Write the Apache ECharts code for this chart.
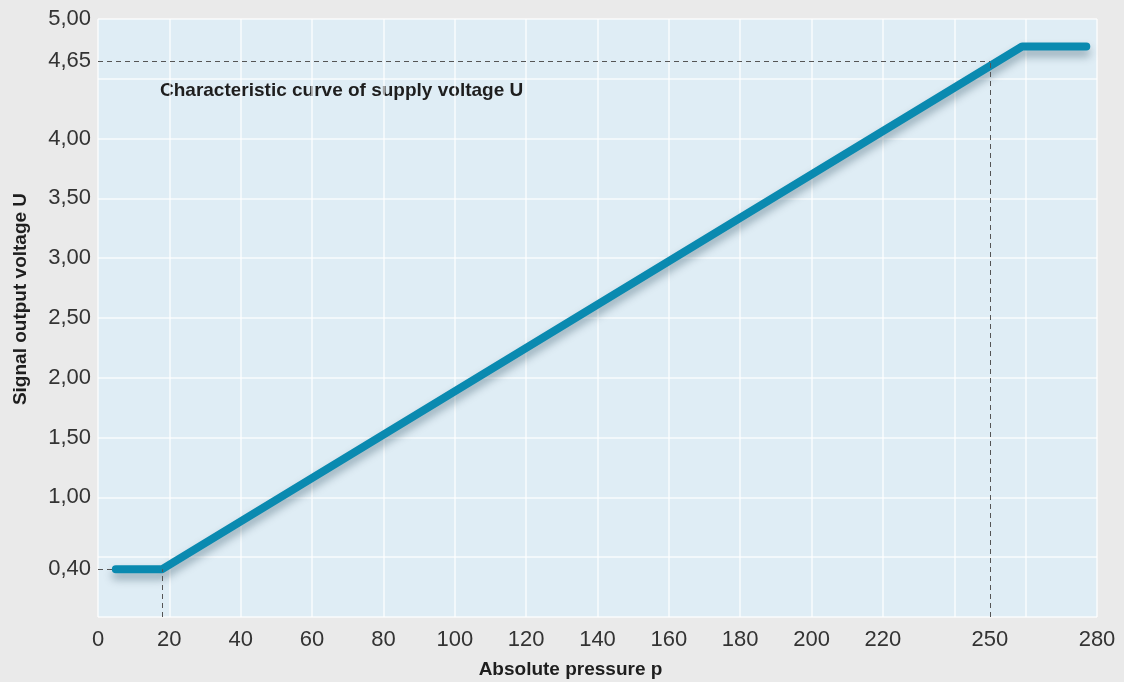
<!DOCTYPE html>
<html>
<head>
<meta charset="utf-8">
<script src="https://cdn.jsdelivr.net/npm/echarts@6/dist/echarts.min.js"></script>
<style>
html,body{margin:0;padding:0;background:#eaeaea;}
#chart{width:1124px;height:682px;}
</style>
</head>
<body>
<div id="chart"></div>
<script>
// Data
const pressure = [5, 18, 259, 277];          // Absolute pressure p
const voltage  = [0.40, 0.40, 4.77, 4.77];   // Signal output voltage U
const xTickValues = [0, 20, 40, 60, 80, 100, 120, 140, 160, 180, 200, 220, 250, 280];
const yTickValues = [0.40, 1.00, 1.50, 2.00, 2.50, 3.00, 3.50, 4.00, 4.65, 5.00];
const refLowX = 18, refLowY = 0.40;
const refHighX = 250, refHighY = 4.65;
const annotation = 'Characteristic curve of supply voltage U';
const xName = 'Absolute pressure p';
const yName = 'Signal output voltage U';

const chart = echarts.init(document.getElementById('chart'), null, {renderer: 'canvas'});
const FONT = '"Liberation Sans", Arial, Helvetica, sans-serif';

const option = {
  backgroundColor: '#eaeaea',
  animation: false,
  grid: {left: 98, right: 27, top: 19, bottom: 65, outerBoundsMode: 'none', containLabel: false,
    show: true, backgroundColor: '#dfedf5', borderWidth: 0},
  xAxis: {
    type: 'value', min: 0, max: 280, interval: 20,
    name: xName, nameLocation: 'middle', nameGap: 43,
    nameTextStyle: {fontFamily: FONT, fontWeight: 'bold', fontSize: 19, color: '#1e1e1e', padding: [0, 54, 0, 0]},
    axisLine: {show: false}, axisTick: {show: false},
    axisLabel: {customValues: xTickValues, fontFamily: FONT, fontSize: 22, color: '#333', margin: 12},
    splitLine: {show: true, lineStyle: {color: 'rgba(255,255,255,0.6)', width: 2}}
  },
  yAxis: {
    type: 'value', min: 0, max: 5, interval: 0.5,
    name: yName, nameLocation: 'middle', nameGap: 68, nameRotate: 90,
    nameTextStyle: {fontFamily: FONT, fontWeight: 'bold', fontSize: 19, color: '#1e1e1e', padding: [0, 0, 0, 38]},
    axisLine: {show: false}, axisTick: {show: false},
    axisLabel: {
      customValues: yTickValues, fontFamily: FONT, fontSize: 22, color: '#333', margin: 7,
      formatter: v => v.toFixed(2).replace('.', ',')
    },
    splitLine: {show: true, lineStyle: {color: 'rgba(255,255,255,0.6)', width: 2}}
  },
  graphic: [{
    type: 'text', left: 160, top: 81,
    style: {text: annotation, font: 'bold 19px ' + FONT, fill: '#1e1e1e'}
  }],
  series: [{
    type: 'line',
    data: pressure.map((p, i) => [p, voltage[i]]),
    symbol: 'none',
    lineStyle: {color: '#0a8ab0', width: 8, cap: 'round', join: 'round',
      shadowColor: 'rgba(0,40,60,0.35)', shadowBlur: 8, shadowOffsetY: 6},
    z: 3,
    markLine: {
      silent: true, symbol: 'none', animation: false,
      label: {show: false},
      lineStyle: {type: [5, 4], color: '#555', width: 1},
      data: [
        [{coord: [0, refHighY]}, {coord: [refHighX, refHighY]}],
        [{coord: [refHighX, 0]}, {coord: [refHighX, refHighY]}],
        [{coord: [0, refLowY]}, {coord: [pressure[0], refLowY]}],
        [{coord: [refLowX, 0]}, {coord: [refLowX, refLowY]}]
      ]
    }
  }]
};
chart.setOption(option);
</script>
</body>
</html>
